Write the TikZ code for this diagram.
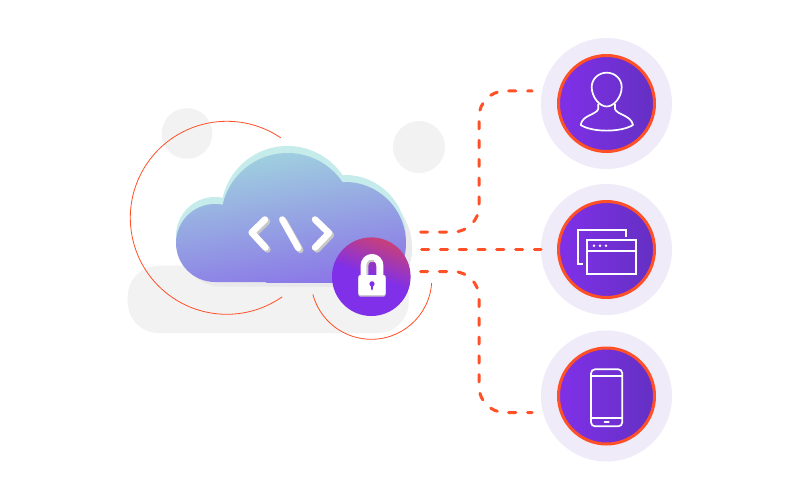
\documentclass[tikz,border=0pt]{standalone}
\usepackage{xcolor}
\usepackage{tikz}
\definecolor{dashorange}{RGB}{255,80,39}
\definecolor{softgrey}{RGB}{242,242,242}
\definecolor{shadowgrey}{RGB}{233,233,236}
\definecolor{iconshadow}{RGB}{200,200,200}
\definecolor{ringlilac}{RGB}{239,235,249}
\definecolor{cloudteal}{RGB}{197,235,235}
\definecolor{cloudtop}{RGB}{160,210,223}
\definecolor{cloudbottom}{RGB}{135,105,232}
\definecolor{discleft}{RGB}{128,48,232}
\definecolor{discright}{RGB}{100,48,195}
\definecolor{lockred}{RGB}{200,64,120}
\newcommand{\cloudshape}{(215,243) circle (39) (287.5,219.5) circle (66.5) (345,243) circle (61)
  (215,243) -- (287,219) -- (345,243) -- (345,282) -- (215,282) -- cycle}
\tikzset{
  ringnode/.style={circle, fill=ringlilac, minimum size=131pt, inner sep=0pt, outer sep=0pt},
  discnode/.style={circle, draw=dashorange, line width=3pt, left color=discleft, right color=discright, minimum size=96pt, inner sep=0pt, outer sep=0pt},
  dashline/.style={draw=dashorange, line width=3pt, line cap=round, dash pattern=on 7.2pt off 11.6pt, rounded corners=26pt},
  thinarc/.style={draw=dashorange, line width=0.8pt},
  iconline/.style={draw=white, line width=1.7pt},
  codeline/.style={line width=6.5pt, line cap=round, line join=round}
}

\begin{document}
\begin{tikzpicture}[x=1pt, y=1pt, yscale=-1]
                \useasboundingbox (0,0) rectangle (800,500);
                \fill[white] (0,0) rectangle (800,500);

                % Grey backdrop
                \fill[softgrey, rounded corners=31pt] (127.7,265.7) rectangle (408.7,333);
                \fill[softgrey] (187,133.5) circle (25.3);
                \fill[softgrey] (419,147) circle (26);

                % Thin arcs
                \draw[thinarc] (226.8,217.8) ++(-56:96.5) arc[start angle=-56, end angle=-305, radius=96.5];
                \draw[thinarc] (371.3,278.8) ++(4:60.5) arc[start angle=4, end angle=165, radius=60.5];

                % Cloud layers
                \begin{scope}[shift={(6,4.5)}]
                    \clip (150,100) rectangle (420,282);
                    \fill[shadowgrey] \cloudshape;
                \end{scope}
                \begin{scope}[shift={(0,-7)}]
                    \clip (150,100) rectangle (420,282);
                    \fill[cloudteal] \cloudshape;
                \end{scope}
                \begin{scope}
                    \clip (150,100) rectangle (420,282);
                    \shade[top color=cloudtop, bottom color=cloudbottom, shading angle=10] \cloudshape;
                \end{scope}

                % Code symbol
                \begin{scope}[shift={(2,2)}, iconshadow]
                    \draw[codeline] (265,219.5) -- (251.7,232.5) -- (265.5,247.5);
                    \draw[codeline] (282.3,219.5) -- (298.3,248);
                    \draw[codeline] (315,219.5) -- (329,233) -- (315,247.5);
                \end{scope}
                \draw[codeline, white] (265,219.5) -- (251.7,232.5) -- (265.5,247.5);
                \draw[codeline, white] (282.3,219.5) -- (298.3,248);
                \draw[codeline, white] (315,219.5) -- (329,233) -- (315,247.5);

                % Lock badge
                \node[circle, minimum size=78.6pt, inner sep=0pt, outer sep=0pt, top color=lockred, bottom color=discleft, middle color=discleft, shading angle=-20] (lockdisc) at (371.3,276.7) {};
                \draw[line width=7pt, white] (364.2,277) -- (364.2,265.3) arc[start angle=180, end angle=360, radius=7.8] -- (379.8,277);
                \draw[line width=2pt, iconshadow] (367.4,275) -- (367.4,265.3) arc[start angle=180, end angle=290, radius=4.8];
                \fill[iconshadow, rounded corners=1.5pt] (358.3,277) rectangle (385.7,296.5);
                \fill[white, rounded corners=1.5pt] (358.3,275) rectangle (385.7,295);
                \fill[discleft] (372,283.8) circle (2.6);
                \fill[discleft] (370.5,284) -- (373.5,284) -- (372.6,290) -- (371.4,290) -- cycle;

                % Device rings
                \node[ringnode] (userring) at (606.5,103.5) {};
                \node[ringnode] (windowring) at (606.5,249.5) {};
                \node[ringnode] (phonering) at (606.5,396) {};
                \node[discnode] (userdisc) at (userring) {};
                \node[discnode] (windowdisc) at (windowring) {};
                \node[discnode] (phonedisc) at (phonering) {};

                % Person icon
                \draw[iconline] (606.7,72.7) .. controls (615,72.7) and (621.7,79) .. (621.7,87)
                    .. controls (621.7,97) and (614,106.5) .. (606.7,106.5)
                    .. controls (599.4,106.5) and (591.7,97) .. (591.7,87)
                    .. controls (591.7,79) and (598.4,72.7) .. (606.7,72.7) -- cycle;
                \draw[iconline, line join=round] (598.3,104) -- (598.3,109) .. controls (596,115) and (582,115) .. (580.7,125)
                    .. controls (592,132.5) and (621,132.5) .. (633,125)
                    .. controls (631,115) and (617,115) .. (615,109) -- (615,104);

                % Window icon
                \draw[iconline] (626,236.7) -- (626,230) -- (577.7,230) -- (577.7,264) -- (583.3,264);
                \draw[iconline] (587.3,240) rectangle (635.7,274);
                \draw[iconline] (587.3,250.7) -- (635.7,250.7);
                \foreach \dotx in {594,600,606}
                    \fill[white] (\dotx,245.7) circle (1.4);

                % Phone icon
                \draw[iconline, rounded corners=4pt] (591,369.3) rectangle (622.3,426.3);
                \draw[iconline] (591,375.7) -- (622.3,375.7);
                \draw[iconline] (591,418.3) -- (622.3,418.3);
                \draw[iconline, line cap=round] (604.5,422.3) -- (608.8,422.3);

                % Connector ends
                \coordinate (cloudtopout) at (420.5,232);
                \coordinate (cloudmidout) at (421.5,249);
                \coordinate (cloudlowout) at (420.5,271.5);
                \coordinate (usercorner) at (532,91);
                \coordinate (phonecorner) at (532,412.5);

                % Dashed connectors
                \draw[dashline] (cloudtopout) -- (479,232) -- (479,91) -- (usercorner);
                \draw[dashline] (cloudmidout) -- (windowring.west |- cloudmidout);
                \draw[dashline] (cloudlowout) -- (479,271.5) -- (479,412.5) -- (phonecorner);
            \end{tikzpicture}
\end{document}
